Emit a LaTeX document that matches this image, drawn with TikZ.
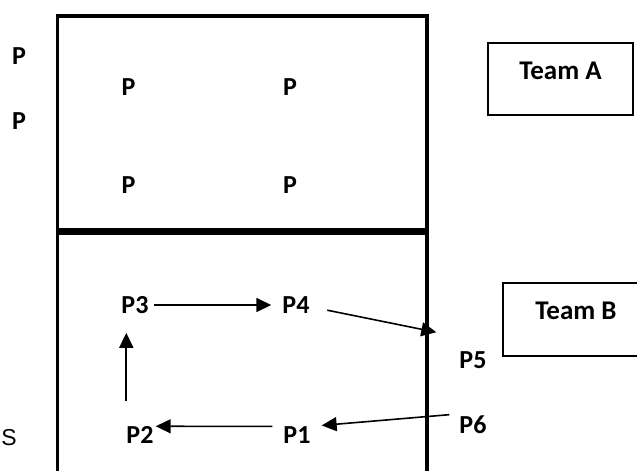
\documentclass[tikz,border=0pt]{standalone}
\usepackage{fontspec}
\setmainfont{Carlito}
\newfontfamily\plainsans{Liberation Sans}
\usetikzlibrary{arrows.meta}

\begin{document}
\begin{tikzpicture}[x=1pt,y=-1pt]
\tikzstyle{pl}=[font=\bfseries\fontsize{26}{26}\selectfont,inner sep=0];
\tikzstyle{team}=[draw,line width=1.8pt,font=\bfseries\fontsize{27}{27}\selectfont,inner sep=0,text height=12pt,text depth=12pt];
\tikzstyle{dir}=[-{Triangle[length=15pt,width=14pt]},line width=1.6pt];
\tikzstyle{court}=[line width=3.6pt];
\useasboundingbox (0,0) rectangle (637,471);
% court
\draw [court] (57.5,480) |- (427,16) -- (427,480);
\draw [court,line width=7pt] (57.5,231.5) -- (427,231.5);
% team A
\node [pl] (a1) at (19,56) {P};
\node [pl] (a2) at (19,121) {P};
\node [pl] (a3) at (128.5,87.5) {P};
\node [pl] (a4) at (290,87.5) {P};
\node [pl] (a5) at (128.5,185) {P};
\node [pl] (a6) at (290,185) {P};
\node [team,minimum width=145pt,minimum height=72pt] (ta) at (560.5,79) {Team A};
% team B
\node [pl] (p1) at (297,435) {P1};
\node [pl] (p2) at (140,435) {P2};
\node [pl] (p3) at (135,305) {P3};
\node [pl] (p4) at (296,305) {P4};
\node [pl] (p5) at (473,360) {P5};
\node [pl] (p6) at (473,425) {P6};
\node [team,minimum width=146pt,minimum height=73pt] (tb) at (576,319.5) {Team B};
\node [font=\plainsans\fontsize{23}{23}\selectfont,inner sep=0] (s) at (9,438) {S};
\draw [dir,shorten <=11pt,shorten >=2pt] (p1.north west) -- (p2.north east);
\draw [dir,shorten <=25pt,shorten >=19pt] (p2.north west) -- (p2.north west |- p3.south);
\draw [dir,shorten <=5pt,shorten >=11pt] (p3) -- (p4);
\draw [dir,shorten <=18pt] ([yshift=7pt]p4.south east) -- ([xshift=-23pt,yshift=19pt]p5.north west);
\draw [dir,shorten <=10pt,shorten >=11pt] ([yshift=2pt]p6.north west) -- (p1.north east);
\end{tikzpicture}
\end{document}
